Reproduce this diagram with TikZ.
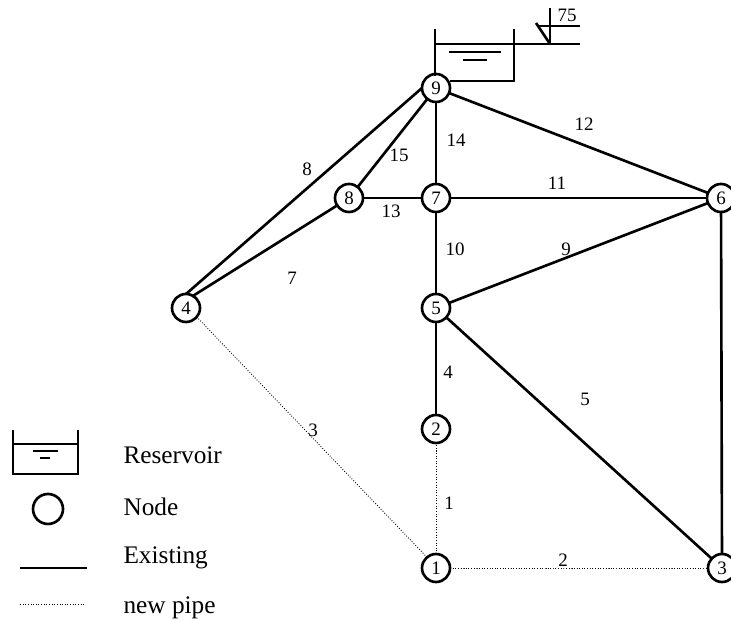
\documentclass[tikz,border=0pt]{standalone}
\usepackage{fontspec}
\setmainfont{Liberation Serif}
\usepackage{tikz-network}
\newcommand{\labelsize}{\fontsize{10.8}{13}\selectfont}

\begin{document}
\begin{tikzpicture}
\clip (0,0) rectangle (14.62,12.42);
\tikzset{wall/.style={line width=1.5pt},water/.style={line width=1.3pt},newpipe/.style={line width=0.5pt,densely dotted}}
\Vertex[x=8.720,y=1.060,size=0.56,color=white,label=1,position=center,fontsize=\labelsize,style={line width=1.5pt}]{n1}
\Vertex[x=8.720,y=3.840,size=0.56,color=white,label=2,position=center,fontsize=\labelsize,style={line width=1.5pt}]{n2}
\Vertex[x=14.440,y=1.060,size=0.56,color=white,label=3,position=center,fontsize=\labelsize,style={line width=1.5pt}]{n3}
\Vertex[x=3.720,y=6.260,size=0.56,color=white,label=4,position=center,fontsize=\labelsize,style={line width=1.5pt}]{n4}
\Vertex[x=8.720,y=6.260,size=0.56,color=white,label=5,position=center,fontsize=\labelsize,style={line width=1.5pt}]{n5}
\Vertex[x=14.420,y=8.460,size=0.56,color=white,label=6,position=center,fontsize=\labelsize,style={line width=1.5pt}]{n6}
\Vertex[x=8.720,y=8.460,size=0.56,color=white,label=7,position=center,fontsize=\labelsize,style={line width=1.5pt}]{n7}
\Vertex[x=6.980,y=8.460,size=0.56,color=white,label=8,position=center,fontsize=\labelsize,style={line width=1.5pt}]{n8}
\Vertex[x=8.720,y=10.660,size=0.56,color=white,label=9,position=center,fontsize=\labelsize,style={line width=1.5pt}]{n9}
\Edge[color=black,lw=0.5pt,style={densely dotted}](n1)(n2)
\Edge[color=black,lw=0.5pt,style={densely dotted}](n1)(n3)
\Edge[color=black,lw=0.5pt,style={densely dotted}](n1.130)(n4.-40)
\Edge[color=black,lw=1.5pt](n2)(n5)
\Edge[color=black,lw=1.5pt](n3)(n5)
\Edge[color=black,lw=1.5pt](n3)(n6)
\Edge[color=black,lw=1.5pt](n4.60)(n8)
\Edge[color=black,lw=1.5pt](n4.north)(n9.west)
\Edge[color=black,lw=1.5pt](n5)(n6)
\Edge[color=black,lw=1.5pt](n5)(n7)
\Edge[color=black,lw=1.5pt](n6)(n7)
\Edge[color=black,lw=1.5pt](n6)(n9)
\Edge[color=black,lw=1.5pt](n7)(n8)
\Edge[color=black,lw=1.5pt](n7)(n9)
\Edge[color=black,lw=1.5pt](n8)(n9)
\Text[x=8.980,y=2.360,fontsize=\labelsize]{1}
\Text[x=11.260,y=1.220,fontsize=\labelsize]{2}
\Text[x=6.260,y=3.820,fontsize=\labelsize]{3}
\Text[x=8.960,y=4.980,fontsize=\labelsize]{4}
\Text[x=11.700,y=4.440,fontsize=\labelsize]{5}
\Text[x=5.840,y=6.860,fontsize=\labelsize]{7}
\Text[x=6.140,y=9.040,fontsize=\labelsize]{8}
\Text[x=11.320,y=7.440,fontsize=\labelsize]{9}
\Text[x=9.100,y=7.440,fontsize=\labelsize]{10}
\Text[x=11.140,y=8.760,fontsize=\labelsize]{11}
\Text[x=11.680,y=9.940,fontsize=\labelsize]{12}
\Text[x=7.820,y=8.200,fontsize=\labelsize]{13}
\Text[x=9.120,y=9.620,fontsize=\labelsize]{14}
\Text[x=7.980,y=9.320,fontsize=\labelsize]{15}
\Text[x=11.340,y=12.120,fontsize=\labelsize]{75}
% reservoir on top
\draw[wall] (8.700,10.900) -- (8.700,11.840);
\draw[wall] (8.700,11.540) -- (11.600,11.540);
\draw[wall] (9.000,10.800) -- (10.280,10.800) -- (10.280,11.840);
\draw[water] (8.980,11.380) -- (10.020,11.380);
\draw[water] (9.260,11.220) -- (9.740,11.220);
\draw[wall] (10.720,11.960) -- (11.000,11.540);
\draw[wall] (11.000,11.540) -- (11.000,12.260);
\draw[wall] (10.760,11.900) -- (11.600,11.900);
% legend
\draw[wall] (0.260,3.820) -- (0.260,2.940) -- (1.560,2.940) -- (1.560,3.820);
\draw[wall] (0.260,3.540) -- (1.560,3.540);
\draw[water] (0.660,3.400) -- (1.160,3.400);
\draw[water] (0.800,3.260) -- (1.000,3.260);
\draw[wall] (0.960,2.240) circle (0.300);
\draw[wall] (0.400,1.060) -- (1.740,1.060);
\draw[newpipe] (0.400,0.340) -- (1.700,0.340);
\Text[x=2.400,y=3.320,position=right,distance=0,fontsize=\Large]{Reservoir}
\Text[x=2.400,y=2.280,position=right,distance=0,fontsize=\Large]{Node}
\Text[x=2.400,y=1.260,position=right,distance=0,fontsize=\Large]{Existing}
\Text[x=2.400,y=0.260,position=right,distance=0,fontsize=\Large]{new pipe}
\end{tikzpicture}
\end{document}
